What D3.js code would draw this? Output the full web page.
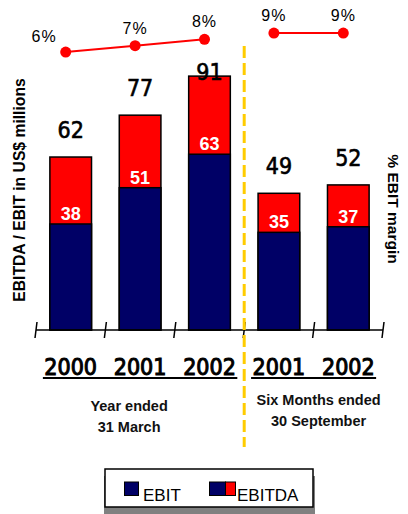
<!DOCTYPE html>
<html>
<head>
<meta charset="utf-8">
<script src="https://cdn.jsdelivr.net/npm/d3@7/dist/d3.min.js"></script>
<style>
  html, body { margin: 0; padding: 0; background: #fff; }
  svg { display: block; }
</style>
</head>
<body>
<svg id="chart" width="408" height="514"></svg>
<script>
// Periods shown along the axis
const periods = ["FY2000", "FY2001", "FY2002", "H1 2001", "H1 2002"];
const yearLabels = ["2000", "2001", "2002", "2001", "2002"];
const groups = ["year", "year", "year", "half", "half"];

// US$ millions
const ebitda = [62, 77, 91, 49, 52];
const ebit = [38, 51, 63, 35, 37];

// EBIT margin, %
const margin = [6, 7, 8, 9, 9];

const groupTitles = {
  year: ["Year ended", "31 March"],
  half: ["Six Months ended", "30 September"]
};

const NAVY = "#000066";
const RED = "#ff0000";
const GOLD = "#ffcc00";
const SANS = "'Liberation Sans', Arial, sans-serif";
const COND = "'DejaVu Sans Condensed', 'DejaVu Sans', sans-serif";

const svg = d3.select("#chart");

const x = d3.scaleBand()
  .domain(periods)
  .range([36, 383])
  .paddingInner(0.4)
  .paddingOuter(0.2);

const y = d3.scaleLinear().domain([0, 100]).range([330, 51]);
const yMargin = d3.scaleLinear().domain([0, 10]).range([90, 26.7]);

const rows = periods.map((p, i) => ({
  key: p, year: yearLabels[i], group: groups[i],
  ebitda: ebitda[i], ebit: ebit[i], margin: margin[i]
}));

const cx = d => x(d.key) + x.bandwidth() / 2;

// Stacked bars: EBITDA (full height, red) with EBIT (navy) over it
const bars = svg.append("g");
bars.selectAll("rect.ebitda").data(rows).join("rect")
  .attr("class", "ebitda")
  .attr("x", d => x(d.key))
  .attr("width", x.bandwidth())
  .attr("y", d => y(d.ebitda))
  .attr("height", d => y(0) - y(d.ebitda))
  .attr("fill", RED)
  .attr("stroke", "#000")
  .attr("stroke-width", 1.5);

bars.selectAll("rect.ebit").data(rows).join("rect")
  .attr("class", "ebit")
  .attr("x", d => x(d.key))
  .attr("width", x.bandwidth())
  .attr("y", d => y(d.ebit))
  .attr("height", d => y(0) - y(d.ebit))
  .attr("fill", NAVY)
  .attr("stroke", "#000")
  .attr("stroke-width", 1.5);

// EBIT values inside the bars
bars.selectAll("text.ebit").data(rows).join("text")
  .attr("class", "ebit")
  .attr("x", cx)
  .attr("y", d => y(d.ebit) - 4)
  .attr("text-anchor", "middle")
  .attr("font-family", SANS)
  .attr("font-weight", "bold")
  .attr("font-size", 18)
  .attr("fill", "#fff")
  .text(d => d.ebit);

// EBITDA totals above the bars, kept under the margin line
bars.selectAll("text.total").data(rows).join("text")
  .attr("class", "total")
  .attr("x", cx)
  .attr("y", d => Math.max(y(d.ebitda) - 19, 80))
  .attr("text-anchor", "middle")
  .attr("font-family", COND)
  .attr("font-size", 23)
  .attr("fill", "#000")
  .attr("stroke", "#000")
  .attr("stroke-width", 0.6)
  .text(d => d.ebitda);

// Category axis with ticks crossing the baseline
const axis = svg.append("g");
axis.append("line")
  .attr("x1", x.range()[0]).attr("x2", x.range()[1])
  .attr("y1", y(0)).attr("y2", y(0))
  .attr("stroke", "#000").attr("stroke-width", 1.5);
const edges = d3.range(periods.length + 1).map(i => x.range()[0] + i * x.step());
axis.selectAll("line.tick").data(edges).join("line")
  .attr("class", "tick")
  .attr("x1", d => d + 1).attr("x2", d => d - 1)
  .attr("y1", y(0) - 8).attr("y2", y(0) + 8)
  .attr("stroke", "#000").attr("stroke-width", 1.5);

// Year labels
axis.selectAll("text.year").data(rows).join("text")
  .attr("class", "year")
  .attr("x", cx)
  .attr("y", 375)
  .attr("text-anchor", "middle")
  .attr("font-family", COND)
  .attr("font-size", 23)
  .attr("fill", "#000")
  .attr("stroke", "#000")
  .attr("stroke-width", 1)
  .text(d => d.year);

// Underline each group of years and caption it
const groupKeys = ["year", "half"];
groupKeys.forEach(g => {
  const members = rows.filter(r => r.group === g);
  const x0 = x(members[0].key) - 7;
  const x1 = x(members[members.length - 1].key) + x.bandwidth() + 7;
  axis.append("line")
    .attr("x1", x0).attr("x2", x1)
    .attr("y1", 378).attr("y2", 378)
    .attr("stroke", "#000").attr("stroke-width", 2);
  const mid = (x(members[0].key) + x(members[members.length - 1].key) + x.bandwidth()) / 2;
  const lines = groupTitles[g];
  const top = g === "year" ? 411 : 405;
  lines.forEach((t, j) => {
    axis.append("text")
      .attr("x", mid + (g === "year" ? -11 : 5))
      .attr("y", top + j * 21)
      .attr("text-anchor", "middle")
      .attr("font-family", SANS)
      .attr("font-weight", "bold")
      .attr("font-size", 14.5)
      .attr("fill", "#111")
      .text(t);
  });
});

// Divider between annual and half-year figures
svg.append("line")
  .attr("x1", edges[3]).attr("x2", edges[3])
  .attr("y1", 46).attr("y2", 447)
  .attr("stroke", GOLD)
  .attr("stroke-width", 3)
  .attr("stroke-dasharray", "12,5");

// EBIT margin line, one segment per group
const mx = d => cx(d) - 5;
const line = d3.line().x(mx).y(d => yMargin(d.margin));
const mg = svg.append("g");
groupKeys.forEach(g => {
  mg.append("path")
    .datum(rows.filter(r => r.group === g))
    .attr("d", line)
    .attr("fill", "none")
    .attr("stroke", RED)
    .attr("stroke-width", 2);
});
mg.selectAll("circle").data(rows).join("circle")
  .attr("cx", mx)
  .attr("cy", d => yMargin(d.margin))
  .attr("r", 5.5)
  .attr("fill", RED);
mg.selectAll("text").data(rows).join("text")
  .attr("x", (d, i) => i === 0 ? mx(d) - 9 : mx(d))
  .attr("y", (d, i) => yMargin(d.margin) - (i === 0 ? 10 : 12))
  .attr("text-anchor", (d, i) => i === 0 ? "end" : "middle")
  .attr("font-family", SANS)
  .attr("font-size", 16)
  .attr("letter-spacing", 1)
  .attr("fill", "#000")
  .text(d => d3.format(".0f")(d.margin) + "%");

// Axis titles
svg.append("text")
  .attr("transform", "translate(25,190) rotate(-90)")
  .attr("text-anchor", "middle")
  .attr("font-family", SANS)
  .attr("font-weight", "bold")
  .attr("font-size", 15.7)
  .attr("fill", "#000")
  .text("EBITDA / EBIT in US$ millions");

svg.append("text")
  .attr("transform", "translate(388,209) rotate(90)")
  .attr("text-anchor", "middle")
  .attr("font-family", SANS)
  .attr("font-weight", "bold")
  .attr("font-size", 15.5)
  .attr("fill", "#000")
  .text("% EBIT margin");

// Legend with drop shadow
const lg = svg.append("g");
lg.append("rect").attr("x", 104).attr("y", 476).attr("width", 211).attr("height", 38).attr("fill", "#808080");
lg.append("rect").attr("x", 105).attr("y", 469).attr("width", 208).attr("height", 38)
  .attr("fill", "#fff").attr("stroke", "#000").attr("stroke-width", 1.5);

lg.append("rect").attr("x", 124.5).attr("y", 482).attr("width", 14).attr("height", 13.5)
  .attr("fill", NAVY).attr("stroke", "#000").attr("stroke-width", 1);
lg.append("text").attr("x", 143).attr("y", 501)
  .attr("font-family", SANS).attr("font-size", 17).attr("fill", "#000").text("EBIT");

lg.append("rect").attr("x", 209.5).attr("y", 482).attr("width", 16).attr("height", 13.5)
  .attr("fill", NAVY).attr("stroke", "#000").attr("stroke-width", 1);
lg.append("rect").attr("x", 225.5).attr("y", 482).attr("width", 10).attr("height", 13.5)
  .attr("fill", RED).attr("stroke", "#000").attr("stroke-width", 1);
lg.append("text").attr("x", 237).attr("y", 501)
  .attr("font-family", SANS).attr("font-size", 17).attr("fill", "#000").text("EBITDA");
</script>
</body>
</html>
